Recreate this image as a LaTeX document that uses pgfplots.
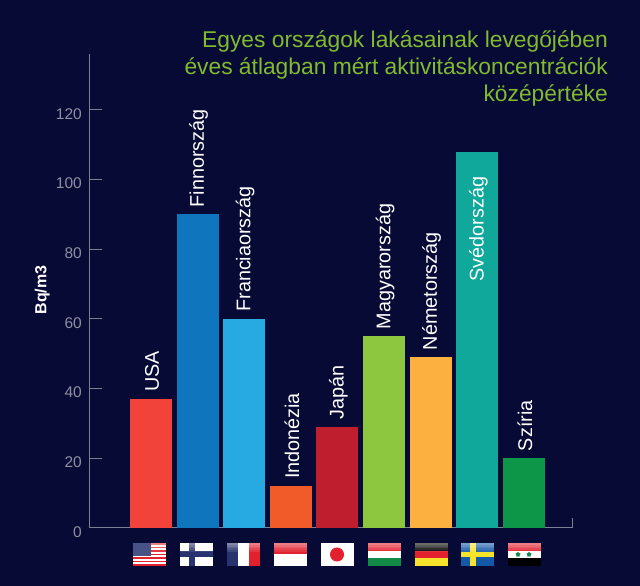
\documentclass[border=0pt]{standalone}
\usepackage{fontspec}
\setmainfont{Liberation Sans}
\usepackage{pgfplots}
\pgfplotsset{compat=1.18}
\usetikzlibrary{shapes.geometric}

\definecolor{bg}{HTML}{070A35}
\definecolor{axisgray}{HTML}{7C7F93}
\definecolor{ticktext}{HTML}{8E90A2}
\definecolor{titlegreen}{HTML}{82BA2E}
\definecolor{cUSA}{HTML}{F1433A}
\definecolor{cFin}{HTML}{0F75BC}
\definecolor{cFra}{HTML}{27AAE1}
\definecolor{cIdn}{HTML}{F15A29}
\definecolor{cJap}{HTML}{BE1E2D}
\definecolor{cHun}{HTML}{8DC63F}
\definecolor{cGer}{HTML}{FBB040}
\definecolor{cSwe}{HTML}{10A89A}
\definecolor{cSyr}{HTML}{0D9648}
\definecolor{flagblue}{HTML}{27336F}
\definecolor{flagred}{HTML}{E3202E}
\definecolor{flaggreen}{HTML}{128A45}
\definecolor{sweblue}{HTML}{1459A8}
\definecolor{sweyel}{HTML}{F6E32B}

% country bar with its label above the top
\newcommand{\countrybar}[4]{%
  \addplot[fill=#1,draw=none,nodes near coords={#2}] coordinates {(#3,#4)};
}
% gloss on the upper part of a flag, 33x23
\newcommand{\gloss}{%
  \foreach \i in {0,...,4}{
    \pgfmathsetmacro{\op}{0.42-0.08*\i}
    \pgfmathsetmacro{\ya}{23-1.8*\i}
    \pgfmathsetmacro{\yb}{23-1.8*(\i+1)}
    \fill[white,opacity=\op] (0,\ya) rectangle (33,\yb);
  }
}

\begin{document}
\begin{tikzpicture}[x=1pt,y=1pt]
\fill[bg] (0,0) rectangle (640,586);
\useasboundingbox (0,0) rectangle (640,586);

\begin{axis}[
    at={(89pt,58pt)}, anchor=south west,
    scale only axis, width=483pt, height=474pt,
    xmin=-1.33, xmax=9.03, ymin=0, ymax=136,
    ybar, bar width=42pt, bar shift=0pt,
    axis lines*=left,
    axis line style={draw=axisgray,line width=1pt,-},
    xtick=\empty,
    ytick={0,20,40,60,80,100,120},
    tick align=inside, major tick length=13pt,
    tick style={draw=axisgray,line width=1pt},
    /pgf/number format/assume math mode=true,
    yticklabel style={font=\fontsize{15.5}{18}\selectfont,text=ticktext,inner sep=0pt,xshift=-7pt,yshift=-4pt},
    ylabel={Bq/m3},
    every axis y label/.style={at={(axis description cs:-0.097,0.502)},rotate=90,anchor=center,
      font=\fontsize{16}{18}\selectfont\bfseries,text=white},
    nodes near coords style={rotate=90,anchor=west,inner sep=0pt,xshift=7pt,yshift=-1pt,
      font=\fontsize{19.8}{22}\selectfont,text=white},
    clip=false,
]
\countrybar{cUSA}{USA}{0}{37}
\countrybar{cFin}{Finnország}{1}{90}
\countrybar{cFra}{Franciaország}{2}{60}
\countrybar{cIdn}{Indonézia}{3}{12}
\countrybar{cJap}{Japán}{4}{29}
\countrybar{cHun}{Magyarország}{5}{55}
\countrybar{cGer}{Németország}{6}{49}
\addplot[fill=cSwe,draw=none,nodes near coords={Svédország},
  nodes near coords style={anchor=east,xshift=-32pt}] coordinates {(7,108)};
\countrybar{cSyr}{Szíria}{8}{20}
\draw[axisgray,line width=1pt] (rel axis cs:1,0) -- ++(0pt,10pt);
\end{axis}

% title
\node[anchor=north east,align=right,inner sep=0pt,text=titlegreen,
  font=\fontsize{22.8}{27}\selectfont] at (608,555)
  {Egyes országok lakásainak levegőjében\\
   éves átlagban mért aktivitáskoncentrációk\\
   középértéke};

% flags
\begin{scope}[shift={(133,20)}]
  \fill[white] (0,0) rectangle (33,23);
  \foreach \k in {0,2,4,6,8,10,12}{\fill[flagred] (0,{\k*23/13}) rectangle (33,{(\k+1)*23/13});}
  \gloss
  \fill[flagblue!85!white] (0,10) rectangle (17.7,23);
\end{scope}
\begin{scope}[shift={(180,20)}]
  \fill[white] (0,0) rectangle (33,23);
  \fill[flagblue] (9,0) rectangle (14.5,23);
  \fill[flagblue] (0,8.5) rectangle (33,14.5);
  \gloss
\end{scope}
\begin{scope}[shift={(227,20)}]
  \fill[white] (0,0) rectangle (33,23);
  \fill[flagblue] (0,0) rectangle (10.5,23);
  \fill[flagred] (22,0) rectangle (33,23);
  \gloss
\end{scope}
\begin{scope}[shift={(274,20)}]
  \fill[white] (0,0) rectangle (33,23);
  \fill[flagred] (0,11.5) rectangle (33,23);
  \gloss
\end{scope}
\begin{scope}[shift={(320.5,20)}]
  \fill[white] (0,0) rectangle (33,23);
  \fill[flagred] (16.5,11.5) circle (7);
\end{scope}
\begin{scope}[shift={(367.5,20)}]
  \fill[white] (0,0) rectangle (33,23);
  \fill[flagred] (0,15.3) rectangle (33,23);
  \fill[flaggreen] (0,0) rectangle (33,7.7);
  \gloss
\end{scope}
\begin{scope}[shift={(414.5,20)}]
  \fill[black] (0,15.3) rectangle (33,23);
  \fill[flagred] (0,7.7) rectangle (33,15.3);
  \fill[sweyel] (0,0) rectangle (33,7.7);
  \gloss
\end{scope}
\begin{scope}[shift={(461,20)}]
  \fill[sweblue] (0,0) rectangle (33,23);
  \fill[sweyel] (9,0) rectangle (14.7,23);
  \fill[sweyel] (0,8.7) rectangle (33,13.7);
  \gloss
\end{scope}
\begin{scope}[shift={(508,20)}]
  \fill[white] (0,0) rectangle (33,23);
  \fill[flagred] (0,15.3) rectangle (33,23);
  \fill[black] (0,0) rectangle (33,7.7);
  \node[star,star points=5,fill=flaggreen,inner sep=0pt,minimum size=5.5pt] at (10,11.5) {};
  \node[star,star points=5,fill=flaggreen,inner sep=0pt,minimum size=5.5pt] at (21,11.5) {};
  \gloss
\end{scope}
\end{tikzpicture}
\end{document}
